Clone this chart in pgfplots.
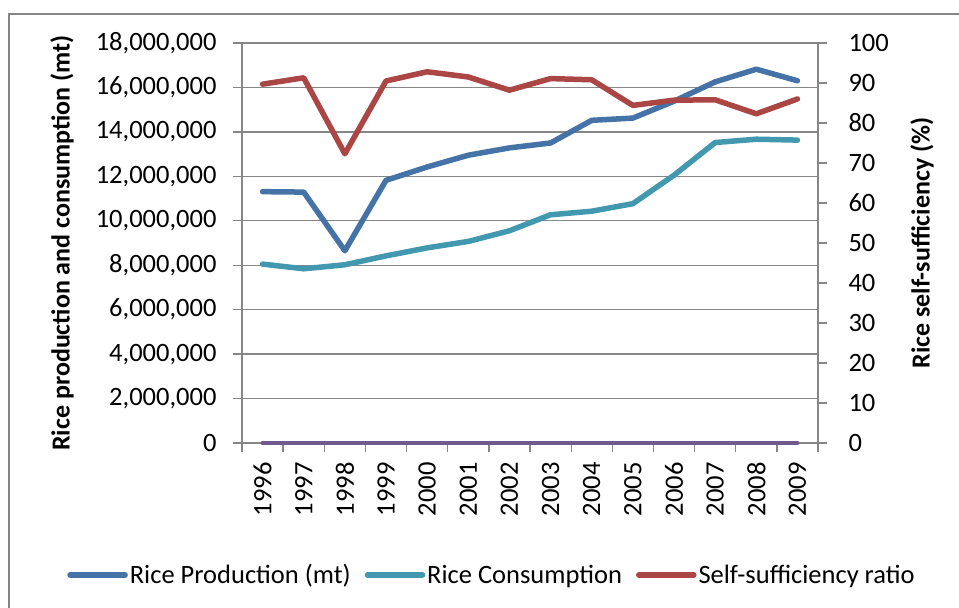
\documentclass[border=0pt]{standalone}
\usepackage{fontspec}
\setmainfont{Carlito}
\usepackage{pgfplots}
\pgfplotsset{compat=1.18}

\definecolor{prodblue}{HTML}{4572A7}
\definecolor{consteal}{HTML}{4198AF}
\definecolor{ratiored}{HTML}{AA4643}
\definecolor{zeropurple}{HTML}{71588F}
\definecolor{axgray}{HTML}{868686}

\pgfplotsset{
  base/.style={
    at={(242bp,165bp)}, anchor=south west,
    scale only axis, width=576bp, height=400bp,
    xmin=-0.5, xmax=13.5,
    axis line style={axgray, line width=1.3bp},
    tick style={axgray, line width=1.3bp},
    tick align=outside,
    major tick length=9bp, minor tick length=9bp,
    ticklabel style={font=\fontsize{26.5bp}{31bp}\selectfont, text=black},
    label style={font=\bfseries\fontsize{26bp}{31bp}\selectfont},
    /pgf/number format/assume math mode=true,
  },
  series/.style={line width=5.5bp, line join=round, line cap=round, mark=none},
}

\begin{document}
\begin{tikzpicture}[x=1bp,y=1bp]
\useasboundingbox (0,0) rectangle (959,608);
\draw[axgray, line width=2bp] (9,-10) -- (9,594) -- (970,594);

% left axis: production and consumption
\begin{axis}[base,
  clip=false,
  axis x line*=bottom, axis y line*=left,
  x axis line style={draw=none},
  ymin=0, ymax=18000000,
  ytick={0,2000000,...,18000000},
  scaled y ticks=false,
  yticklabel style={xshift=-13bp, /pgf/number format/.cd, fixed, 1000 sep={,}},
  ymajorgrids, grid style={axgray, line width=1.3bp},
  xtick={0,...,13},
  xticklabels={1996,1997,1998,1999,2000,2001,2002,2003,2004,2005,2006,2007,2008,2009},
  major x tick style={draw=none},
  minor xtick={-0.5,0.5,...,13.5},
  xticklabel style={rotate=90, anchor=east, xshift=-7bp},
  ylabel={Rice production and consumption (mt)},
  ylabel style={at={(axis description cs:-0.3125,0.5)}, anchor=center},
]
\addplot[series, prodblue] coordinates {
  (0,11310000) (1,11290000) (2,8650000) (3,11820000) (4,12420000) (5,12950000) (6,13280000)
  (7,13500000) (8,14520000) (9,14620000) (10,15380000) (11,16250000) (12,16820000) (13,16300000)};
\addplot[series, consteal] coordinates {
  (0,8050000) (1,7840000) (2,8020000) (3,8420000) (4,8780000) (5,9070000) (6,9550000)
  (7,10270000) (8,10430000) (9,10770000) (10,12050000) (11,13520000) (12,13670000) (13,13630000)};
\addplot[series, zeropurple, line width=4bp] coordinates {
  (0,0) (1,0) (2,0) (3,0) (4,0) (5,0) (6,0) (7,0) (8,0) (9,0) (10,0) (11,0) (12,0) (13,0)};
\end{axis}

% right axis: self-sufficiency ratio
\begin{axis}[base,
  axis x line=none, axis y line*=right,
  ymin=0, ymax=100, ytick={0,10,...,100},
  yticklabel style={xshift=18bp},
  ylabel={Rice self-sufficiency (\%)},
  ylabel style={at={(axis description cs:1.1806,0.5)}, anchor=center},
  legend columns=3,
  legend style={at={(axis description cs:0.434,-0.33)}, anchor=center, draw=none,
    fill=none, font=\fontsize{26.5bp}{31bp}\selectfont,
    cells={anchor=west}, nodes={inner xsep=2bp},
    /tikz/every even column/.append style={column sep=12bp}},
  legend image code/.code={\draw[#1, line width=5.5bp, line cap=round] (0bp,0bp) -- (55bp,0bp);},
]
\addlegendimage{series, prodblue}
\addlegendentry{Rice Production (mt)}
\addlegendimage{series, consteal}
\addlegendentry{Rice Consumption}
\addplot[series, ratiored] coordinates {
  (0,89.7) (1,91.3) (2,72.3) (3,90.5) (4,92.8) (5,91.5) (6,88.2)
  (7,91.1) (8,90.8) (9,84.4) (10,85.7) (11,85.8) (12,82.3) (13,86.0)};
\addlegendentry{Self-sufficiency ratio}
\end{axis}
\end{tikzpicture}
\end{document}
